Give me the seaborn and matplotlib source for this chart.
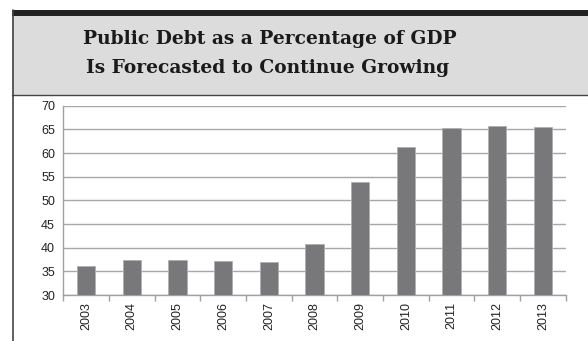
import matplotlib
matplotlib.use("Agg")
import matplotlib.pyplot as plt
import seaborn as sns
import pandas as pd
from matplotlib.patches import Rectangle
from matplotlib.lines import Line2D

years = ["2003", "2004", "2005", "2006", "2007", "2008", "2009", "2010", "2011", "2012", "2013"]
debt_pct = [36.2, 37.3, 37.5, 37.1, 36.9, 40.8, 53.8, 61.3, 65.2, 65.8, 65.4]
y_ticks = [30, 35, 40, 45, 50, 55, 60, 65, 70]
title_lines = ["Public Debt as a Percentage of GDP", "Is Forecasted to Continue Growing"]

df = pd.DataFrame({"year": years, "debt": debt_pct})

sns.set_theme(style="white")
plt.rcParams["font.family"] = ["Liberation Sans", "DejaVu Sans"]

W, H = 588, 341
fig = plt.figure(figsize=(W / 100, H / 100), dpi=100)
fig.patch.set_facecolor("white")

def fx(px):
    return px / W

def fy(py):
    return 1 - py / H

# title box
fig.add_artist(Rectangle((fx(12), fy(95)), 1 - fx(12), fy(15) - fy(95),
                         transform=fig.transFigure, facecolor="#dcdcdc",
                         edgecolor="none", zorder=0))
fig.add_artist(Rectangle((fx(12), fy(16)), 1 - fx(12), fy(10) - fy(16),
                         transform=fig.transFigure, facecolor="#222222",
                         edgecolor="none", zorder=1))
fig.add_artist(Line2D([fx(12), 1], [fy(95), fy(95)], transform=fig.transFigure,
                      color="#444444", lw=1.0, zorder=2))
fig.add_artist(Line2D([fx(12.5), fx(12.5)], [0, fy(10)], transform=fig.transFigure,
                      color="#444444", lw=1.2, zorder=2))

fig.text(fx(270), fy(39), title_lines[0], ha="center", va="center",
         family="DejaVu Serif", weight="bold", fontsize=13.4, color="#1a1a1a")
fig.text(fx(268), fy(68), title_lines[1], ha="center", va="center",
         family="DejaVu Serif", weight="bold", fontsize=13.4, color="#1a1a1a")

ax = fig.add_axes([fx(63.3), fy(295), fx(565.7) - fx(63.3), fy(105.7) - fy(295)])
sns.barplot(data=df, x="year", y="debt", color="#78787b", width=0.4,
            saturation=1, edgecolor="#b0b0b0", linewidth=0.6, ax=ax, zorder=3)
ax.set_ylim(30, 70)
ax.set_xlim(-0.5, len(years) - 0.5)
ax.set_yticks(y_ticks)
ax.set_yticklabels([str(t) for t in y_ticks])
ax.set_xlabel("")
ax.set_ylabel("")
ax.grid(axis="y", color="#a8a8a8", lw=1.0, zorder=0)
ax.grid(axis="x", visible=False)
for s in ["top", "right"]:
    ax.spines[s].set_visible(False)
for s in ["left", "bottom"]:
    ax.spines[s].set_color("#a0a0a0")
    ax.spines[s].set_linewidth(1.0)
ax.set_xticks(range(len(years)))
ax.set_xticklabels(years, rotation=90)
ax.tick_params(axis="x", length=0, labelsize=9, pad=5, colors="#222222")
ax.tick_params(axis="y", length=4, width=1, color="#a0a0a0", labelsize=9, pad=2, labelcolor="#222222")
ax.set_xticks([i + 0.5 for i in range(-1, len(years))], minor=True)
ax.tick_params(axis="x", which="minor", length=4, width=1, color="#a0a0a0", direction="out", bottom=True)

fig.savefig("out.png", dpi=100)
